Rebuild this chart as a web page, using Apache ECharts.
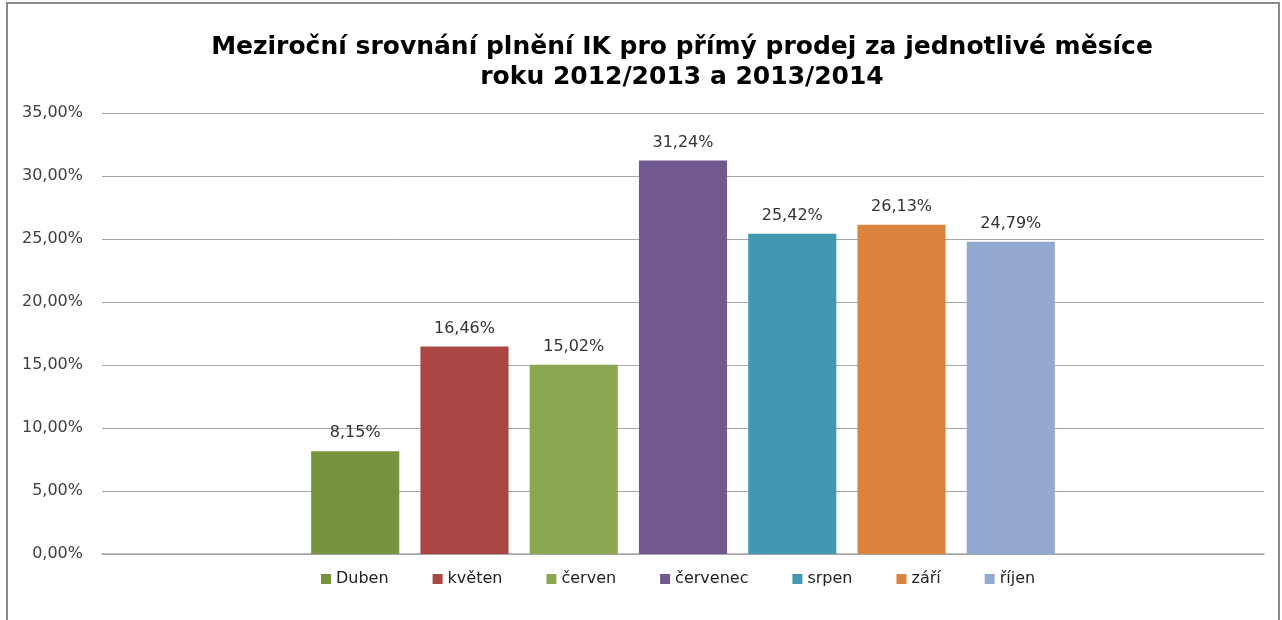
<!DOCTYPE html>
<html>
<head>
<meta charset="utf-8">
<script src="https://cdn.jsdelivr.net/npm/echarts@6/dist/echarts.min.js"></script>
<style>
html, body { margin: 0; padding: 0; overflow: hidden; background: #fff; }
#frame { position: absolute; left: 6px; top: 2px; width: 1270px; height: 700px; border: 2px solid #8a8a8a; }
#main { position: absolute; left: 0; top: 0; width: 1282px; height: 620px; }
</style>
</head>
<body>
<div id="frame"></div>
<div id="main"></div>
<script>
// měsíce a hodnoty (v %)
var months = ['Duben', 'květen', 'červen', 'červenec', 'srpen', 'září', 'říjen'];
var values = [8.15, 16.46, 15.02, 31.24, 25.42, 26.13, 24.79];
var colors = ['#77933C', '#AA4644', '#8CA752', '#71588F', '#4298AF', '#DB843D', '#94A9D0'];
var yTicks = [0, 5, 10, 15, 20, 25, 30, 35];

function pct(v) {
    return v.toFixed(2).replace('.', ',') + '%';
}

var myChart = echarts.init(document.getElementById('main'));

var series = months.map(function (m, i) {
    return {
        name: m,
        type: 'bar',
        data: [values[i]],
        barGap: '24%',
        barCategoryGap: '36%',
        itemStyle: { color: colors[i] },
        label: {
            show: true,
            position: 'top',
            distance: 10,
            formatter: function (p) { return pct(p.value); },
            fontFamily: 'DejaVu Sans',
            fontSize: 16,
            color: '#333'
        }
    };
});

var option = {
    animation: false,
    title: {
        text: 'Meziroční srovnání plnění IK pro přímý prodej za jednotlivé měsíce\nroku 2012/2013 a 2013/2014',
        left: 677,
        textAlign: 'center',
        top: 27,
        textStyle: {
            fontFamily: 'DejaVu Sans',
            fontWeight: 'bold',
            fontSize: 25,
            lineHeight: 30,
            color: '#000'
        }
    },
    legend: {
        data: months,
        top: 566,
        left: 316,
        itemWidth: 10,
        itemHeight: 10,
        itemGap: 44,
        icon: 'rect',
        textStyle: {
            fontFamily: 'DejaVu Sans',
            fontSize: 16,
            color: '#222'
        }
    },
    grid: {
        left: 102,
        right: 18,
        top: 113,
        bottom: 66
    },
    xAxis: {
        type: 'category',
        data: [''],
        axisTick: { show: false },
        axisLabel: { show: false },
        axisLine: { lineStyle: { color: '#a6a6a6', width: 1.5 } }
    },
    yAxis: {
        type: 'value',
        min: yTicks[0],
        max: yTicks[yTicks.length - 1],
        interval: 5,
        axisLine: { show: false },
        axisTick: { show: false },
        axisLabel: {
            margin: 19,
            formatter: function (v) { return pct(v); },
            fontFamily: 'DejaVu Sans',
            fontSize: 16,
            color: '#404040'
        },
        splitLine: { lineStyle: { color: '#a6a6a6', width: 1 } }
    },
    series: series
};

myChart.setOption(option);
</script>
</body>
</html>
